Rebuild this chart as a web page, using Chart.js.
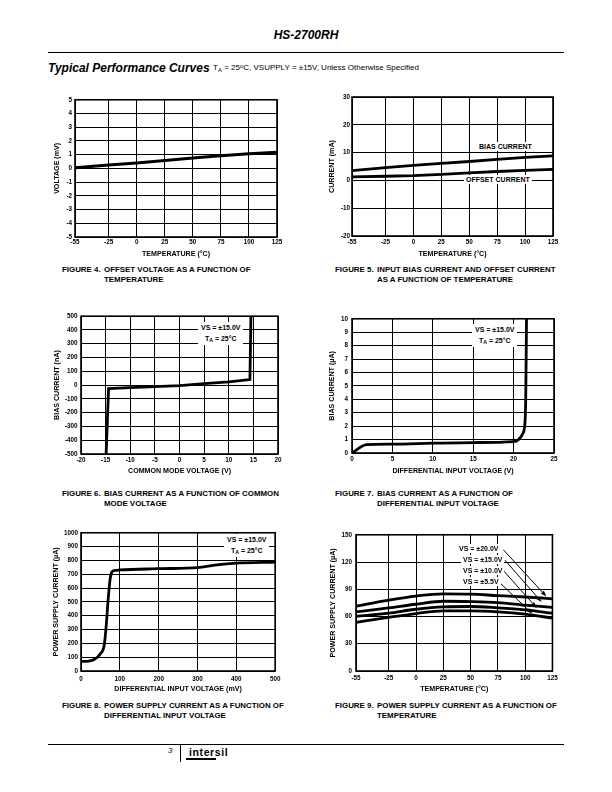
<!DOCTYPE html>
<html lang="en">
<head>
<meta charset="UTF-8">
<meta name="viewport" content="width=device-width, initial-scale=1.0">
<style>
  body { margin: 0; background: #fff; }
  #page { position: relative; width: 612px; height: 792px; overflow: hidden;
          font-family: "Liberation Sans", Arial, sans-serif; color: #000; }
  #page > div { position: absolute; white-space: pre; }
  canvas { position: absolute; }
  .cap { font-size: 7.9px; font-weight: bold; line-height: 10px; }
  .note { background: #fff; font-size: 7px; font-weight: bold; line-height: 10.5px; padding: 1px 3px; text-align: center; z-index: 2; }
  .lbl { background: #fff; font-size: 7px; font-weight: bold; line-height: 7px; padding: 1px 2px; z-index: 2; }
  .sub { font-size: 0.75em; position: relative; top: 0.25em; }
  .sup { font-size: 0.75em; position: relative; top: -0.4em; }
</style>
</head>
<body>
<div id="page">
  <div style="left:0;width:612px;text-align:center;top:28px;font:bold italic 12px/14px 'Liberation Sans';">HS-2700RH</div>
  <div style="left:48px;top:52px;width:516px;height:1px;background:#000;"></div>
  <div style="left:48px;top:61px;font:bold italic 12px/14px 'Liberation Sans';">Typical Performance Curves</div>
  <div style="left:213px;top:63px;font-size:8px;line-height:10px;">T<span class="sub">A</span> = 25<span class="sup">o</span>C, VSUPPLY = ±15V, Unless Otherwise Specified</div>

  <div class="cap" style="left:62px;top:265px;">FIGURE 4.</div>
  <div class="cap" style="left:104px;top:265px;">OFFSET VOLTAGE AS A FUNCTION OF<br>TEMPERATURE</div>
  <div class="cap" style="left:335px;top:265px;">FIGURE 5.</div>
  <div class="cap" style="left:377px;top:265px;">INPUT BIAS CURRENT AND OFFSET CURRENT<br>AS A FUNCTION OF TEMPERATURE</div>
  <div class="cap" style="left:62px;top:489px;">FIGURE 6.</div>
  <div class="cap" style="left:104px;top:489px;">BIAS CURRENT AS A FUNCTION OF COMMON<br>MODE VOLTAGE</div>
  <div class="cap" style="left:335px;top:489px;">FIGURE 7.</div>
  <div class="cap" style="left:377px;top:489px;">BIAS CURRENT AS A FUNCTION OF<br>DIFFERENTIAL INPUT VOLTAGE</div>
  <div class="cap" style="left:62px;top:701px;">FIGURE 8.</div>
  <div class="cap" style="left:104px;top:701px;">POWER SUPPLY CURRENT AS A FUNCTION OF<br>DIFFERENTIAL INPUT VOLTAGE</div>
  <div class="cap" style="left:335px;top:701px;">FIGURE 9.</div>
  <div class="cap" style="left:377px;top:701px;">POWER SUPPLY CURRENT AS A FUNCTION OF<br>TEMPERATURE</div>

  <!-- notes sitting on the plots -->
  <div class="lbl" style="left:477px;top:142px;">BIAS CURRENT</div>
  <div class="lbl" style="left:464px;top:175px;">OFFSET CURRENT</div>
  <div class="note" style="left:198px;top:322px;">VS = ±15.0V<br>T<span class="sub">A</span> = 25°C</div>
  <div class="note" style="left:472px;top:324px;">VS = ±15.0V<br>T<span class="sub">A</span> = 25°C</div>
  <div class="note" style="left:224px;top:534px;">VS = ±15.0V<br>T<span class="sub">A</span> = 25°C</div>
  <div class="lbl" style="left:457px;top:544px;">VS = ±20.0V</div>
  <div class="lbl" style="left:461px;top:555px;">VS = ±15.0V</div>
  <div class="lbl" style="left:461px;top:566px;">VS = ±10.0V</div>
  <div class="lbl" style="left:461px;top:577px;">VS = ±5.5V</div>

  <div style="left:48px;top:744px;width:516px;height:1px;background:#000;"></div>
  <div style="left:168px;top:746px;font-size:8px;font-style:italic;">3</div>
  <div style="left:180px;top:744px;width:1px;height:18px;background:#000;"></div>
  <div style="left:189px;top:746px;font-size:10.5px;font-weight:bold;letter-spacing:0.6px;">intersil</div>
  <div style="left:186px;top:758px;width:30px;height:1.5px;background:#000;"></div>
</div>

<script src="https://cdn.jsdelivr.net/npm/chart.js"></script>
<script>
  // ---- data ----
  const temps = [-55, -25, 0, 25, 50, 75, 100, 125];
  const offsetVoltage = [0.05, 0.25, 0.4, 0.58, 0.75, 0.92, 1.07, 1.17];
  const biasCurrent = [3.5, 4.6, 5.4, 6.1, 6.8, 7.6, 8.3, 8.8];
  const offsetCurrent = [1.3, 1.5, 1.7, 2.2, 2.7, 3.2, 3.6, 4.0];

  const cmVoltage = [-14.9, -14.4, -10, -5, 0, 5, 10, 14.3, 14.5];
  const cmBias = [-500, -25, -18, -11, -4, 11, 23, 40, 500];

  const diffVolt = [0, 1.8, 5, 10, 15, 20, 20.6, 21.1, 21.4, 21.5, 21.6];
  const diffBias = [0, 0.62, 0.66, 0.73, 0.78, 0.85, 1.0, 1.4, 2.2, 4, 10];

  const diffMv = [0, 20, 35, 50, 60, 65, 70, 75, 80, 90, 100, 200, 300, 350, 400, 500];
  const supplyVsDiff = [70, 72, 85, 125, 190, 330, 520, 665, 718, 728, 731, 740, 748, 768, 780, 788];

  const supply20 = [71.5, 78, 82.5, 85, 84.7, 83, 81.5, 79.5];
  const supply15 = [65, 69.5, 73.5, 76.8, 76.5, 75.4, 72.5, 70];
  const supply10 = [60, 63.7, 68, 70.6, 71, 69.5, 67.3, 63.7];
  const supply55 = [53.5, 59, 63.3, 66.3, 66.3, 65.2, 62.6, 58.2];

  // ---- tick labels ----
  const voltTicks = [-5, -4, -3, -2, -1, 0, 1, 2, 3, 4, 5];
  const currTicks = [-20, -10, 0, 10, 20, 30];
  const cmTicks = [-20, -15, -10, -5, 0, 5, 10, 15, 20];
  const nATicks = [-500, -400, -300, -200, -100, 0, 100, 200, 300, 400, 500];
  const diffTicks = [0, 5, 10, 15, 20, 25];
  const uATicks = [0, 1, 2, 3, 4, 5, 6, 7, 8, 9, 10];
  const mvTicks = [0, 100, 200, 300, 400, 500];
  const psTicks = [0, 100, 200, 300, 400, 500, 600, 700, 800, 900, 1000];
  const ps9Ticks = [0, 30, 60, 90, 120, 150];

  // arrows of figure 9: [fromX, fromY, toX, toY] in data units
  const arrows9 = [[80, 133.5, 119.5, 82], [81.5, 122, 115, 76], [80.5, 110, 110.5, 69.5], [77, 97, 106.5, 63]];

  Chart.defaults.font.family = '"Liberation Sans", Arial, sans-serif';

  const xy = (xs, ys) => xs.map((x, i) => ({ x: x, y: ys[i] }));

  const framePlugin = {
    id: 'frame',
    beforeDatasetsDraw(chart) {
      const { ctx, chartArea: a } = chart;
      ctx.save();
      ctx.strokeStyle = '#000';
      ctx.lineWidth = 1.6;
      ctx.strokeRect(a.left, a.top, a.right - a.left, a.bottom - a.top);
      ctx.restore();
    }
  };

  const arrowPlugin = {
    id: 'arrows9',
    afterDatasetsDraw(chart) {
      const ctx = chart.ctx, sx = chart.scales.x, sy = chart.scales.y;
      ctx.save();
      ctx.strokeStyle = '#000';
      ctx.fillStyle = '#000';
      ctx.lineWidth = 1;
      arrows9.forEach(a => {
        const x0 = sx.getPixelForValue(a[0]), y0 = sy.getPixelForValue(a[1]);
        const x1 = sx.getPixelForValue(a[2]), y1 = sy.getPixelForValue(a[3]);
        const ang = Math.atan2(y1 - y0, x1 - x0), L = 6, W = 2;
        const bx = x1 - L * Math.cos(ang), by = y1 - L * Math.sin(ang);
        ctx.beginPath(); ctx.moveTo(x0, y0); ctx.lineTo(bx, by); ctx.stroke();
        ctx.beginPath();
        ctx.moveTo(x1, y1);
        ctx.lineTo(bx + W * Math.sin(ang), by - W * Math.cos(ang));
        ctx.lineTo(bx - W * Math.sin(ang), by + W * Math.cos(ang));
        ctx.closePath(); ctx.fill();
      });
      ctx.restore();
    }
  };

  function plot(box, series, xAxis, yAxis, extra) {
    const c = document.createElement('canvas');
    c.width = box.w; c.height = box.h;
    Object.assign(c.style, { left: box.left + 'px', top: box.top + 'px', width: box.w + 'px', height: box.h + 'px' });
    document.getElementById('page').appendChild(c);

    const axis = (a, horiz) => ({
      type: 'linear', min: a.min, max: a.max,
      afterBuildTicks: s => { s.ticks = a.ticks.map(v => ({ value: v })); },
      afterFit: s => { if (horiz) s.height = box.xh; else s.width = box.yw; },
      grid: { color: '#000', lineWidth: 1, drawTicks: false },
      border: { display: false },
      ticks: { color: '#000', font: { size: 6.3, weight: 'bold' }, padding: horiz ? box.xp : box.yp,
               autoSkip: false, maxRotation: 0, callback: v => String(v) },
      title: { display: true, text: a.title, color: '#000', font: { size: 7.1, weight: 'bold' }, padding: 0 }
    });

    return new Chart(c, {
      type: 'line',
      data: {
        datasets: series.map(s => ({
          data: s.data, borderColor: '#000', borderWidth: s.width || 2.8, pointRadius: 0, fill: false,
          cubicInterpolationMode: s.mono ? 'monotone' : 'default', tension: 0
        }))
      },
      options: {
        responsive: false, animation: false, events: [],
        layout: { padding: { top: 6, right: 8, left: 0, bottom: 0 } },
        plugins: { legend: { display: false }, tooltip: { enabled: false } },
        scales: { x: axis(xAxis, true), y: axis(yAxis, false) }
      },
      plugins: [framePlugin].concat(extra || [])
    });
  }

  const tempAxis = { min: -55, max: 125, ticks: temps, title: 'TEMPERATURE (°C)' };

  // Figure 4
  plot({ left: 53, top: 93, w: 232, h: 165, yw: 22, xh: 21, xp: 1.5, yp: 3 },
       [{ data: xy(temps, offsetVoltage), width: 3 }],
       tempAxis, { min: -5, max: 5, ticks: voltTicks, title: 'VOLTAGE (mV)' });

  // Figure 5
  plot({ left: 328, top: 91, w: 233, h: 167, yw: 24, xh: 22, xp: 2.6, yp: 2 },
       [{ data: xy(temps, biasCurrent) }, { data: xy(temps, offsetCurrent) }],
       tempAxis, { min: -20, max: 30, ticks: currTicks, title: 'CURRENT (mA)' });

  // Figure 6
  plot({ left: 53, top: 309, w: 233, h: 166, yw: 28, xh: 21, xp: 2.6, yp: 3.4 },
       [{ data: xy(cmVoltage, cmBias) }],
       { min: -20, max: 20, ticks: cmTicks, title: 'COMMON MODE VOLTAGE (V)' },
       { min: -500, max: 500, ticks: nATicks, title: 'BIAS CURRENT (nA)' });

  // Figure 7
  plot({ left: 328, top: 311, w: 234, h: 164, yw: 24, xh: 22, xp: 2.6, yp: 4 },
       [{ data: xy(diffVolt, diffBias), mono: true }],
       { min: 0, max: 25, ticks: diffTicks, title: 'DIFFERENTIAL INPUT VOLTAGE (V)' },
       { min: 0, max: 10, ticks: uATicks, title: 'BIAS CURRENT (µA)' });

  // Figure 8
  plot({ left: 52, top: 526, w: 233, h: 167, yw: 29, xh: 22, xp: 4.6, yp: 3 },
       [{ data: xy(diffMv, supplyVsDiff), mono: true }],
       { min: 0, max: 500, ticks: mvTicks, title: 'DIFFERENTIAL INPUT VOLTAGE (mV)' },
       { min: 0, max: 1000, ticks: psTicks, title: 'POWER SUPPLY CURRENT (µA)' });

  // Figure 9
  plot({ left: 329, top: 527, w: 232, h: 166, yw: 27, xh: 22, xp: 3.3, yp: 4 },
       [supply20, supply15, supply10, supply55].map(v => ({ data: xy(temps, v), mono: true })),
       tempAxis, { min: 0, max: 150, ticks: ps9Ticks, title: 'POWER SUPPLY CURRENT (µA)' },
       [arrowPlugin]);
</script>
</body>
</html>
